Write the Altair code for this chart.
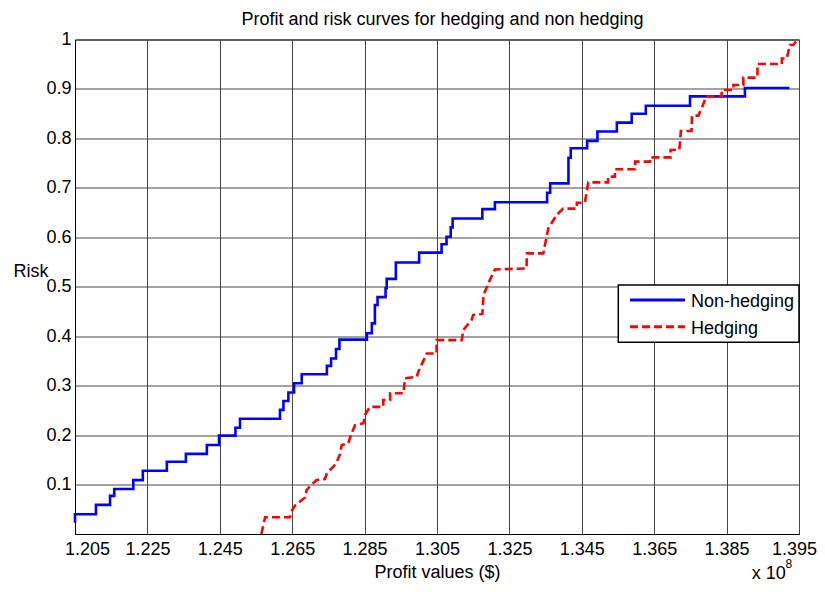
import altair as alt
import pandas as pd

# ---- data (profit in units of 1e8 $) ----
SERIES = ["Non-hedging", "Hedging"]
COLORS = ["#0000ff", "#ff0000"]

BLUE_PROFIT = [1.2050, 1.2050, 1.2105, 1.2142, 1.2153, 1.2203, 1.2228, 1.2291, 1.2341, 1.2396,
               1.2428, 1.2471, 1.2483, 1.2588, 1.2597, 1.2610, 1.2625, 1.2645, 1.2711, 1.2722,
               1.2735, 1.2744, 1.2816, 1.2829, 1.2837, 1.2844, 1.2865, 1.2868, 1.2892, 1.2953,
               1.3012, 1.3025, 1.3036, 1.3041, 1.3119, 1.3152, 1.3289, 1.3297, 1.3345, 1.3351,
               1.3394, 1.3421, 1.3472, 1.3511, 1.3548, 1.3664, 1.3808, 1.3925]
BLUE_RISK = [0.023, 0.040, 0.059, 0.077, 0.091, 0.109, 0.128, 0.146, 0.162, 0.180,
             0.199, 0.215, 0.233, 0.251, 0.269, 0.286, 0.305, 0.323, 0.340, 0.355,
             0.374, 0.393, 0.406, 0.426, 0.463, 0.479, 0.497, 0.516, 0.549, 0.569,
             0.586, 0.601, 0.620, 0.638, 0.657, 0.671, 0.690, 0.709, 0.761, 0.780,
             0.795, 0.814, 0.832, 0.850, 0.866, 0.885, 0.902, 0.902]

RED_PROFIT = [1.2539, 1.2549, 1.2614, 1.2620, 1.2627, 1.2654, 1.2658, 1.2667, 1.2684, 1.2706,
              1.2711, 1.2728, 1.2737, 1.2745, 1.2750, 1.2767, 1.2776, 1.2785, 1.2807, 1.2811,
              1.2824, 1.2859, 1.2859, 1.2877, 1.2877, 1.2912, 1.2916, 1.2947, 1.2951, 1.2973,
              1.2999, 1.2999, 1.3065, 1.3069, 1.3091, 1.3095, 1.3119, 1.3122, 1.3139, 1.3152,
              1.3235, 1.3236, 1.3279, 1.3292, 1.3314, 1.3331, 1.3367, 1.3367, 1.3388, 1.3397,
              1.3449, 1.3449, 1.3467, 1.3467, 1.3520, 1.3520, 1.3559, 1.3559, 1.3613, 1.3613,
              1.3636, 1.3640, 1.3668, 1.3669, 1.3686, 1.3698, 1.3706, 1.3747, 1.3747, 1.3778,
              1.3778, 1.3804, 1.3804, 1.3841, 1.3841, 1.3905, 1.3905, 1.3918, 1.3926, 1.3935,
              1.3946]
RED_RISK = [0.000, 0.034, 0.034, 0.0485, 0.057, 0.074, 0.089, 0.097, 0.109, 0.111,
            0.123, 0.136, 0.146, 0.160, 0.180, 0.183, 0.204, 0.220, 0.224, 0.241,
            0.257, 0.257, 0.271, 0.271, 0.2845, 0.2845, 0.315, 0.318, 0.328, 0.365,
            0.365, 0.392, 0.392, 0.4125, 0.433, 0.443, 0.445, 0.483, 0.514, 0.535,
            0.537, 0.5675, 0.5675, 0.618, 0.645, 0.658, 0.658, 0.670, 0.670, 0.711,
            0.711, 0.7226, 0.7226, 0.7375, 0.7375, 0.753, 0.753, 0.7616, 0.7616, 0.7766,
            0.7766, 0.815, 0.815, 0.846, 0.846, 0.8675, 0.8847, 0.8847, 0.8978, 0.8978,
            0.908, 0.908, 0.923, 0.923, 0.9505, 0.9505, 0.9615, 0.9615, 0.9888, 0.9888,
            1.000]

X_TICKS = [1.205, 1.224, 1.243, 1.262, 1.281, 1.300, 1.319, 1.338, 1.357, 1.376, 1.395]
X_TICK_LABELS = ["1.205", "1.225", "1.245", "1.265", "1.285", "1.305",
                 "1.325", "1.345", "1.365", "1.385", "1.395"]
Y_TICKS = [0.1, 0.2, 0.3, 0.4, 0.5, 0.6, 0.7, 0.8, 0.9, 1.0]

TITLE = "Profit and risk curves for hedging and non hedging"
X_TITLE = "Profit values ($)"
Y_TITLE = "Risk"
X_MULT = "x 10"
X_MULT_EXP = "8"

FONT = "Liberation Sans"
W, H = 724, 494.5

blue = pd.DataFrame({"profit": BLUE_PROFIT, "risk": BLUE_RISK,
                     "series": SERIES[0], "i": range(len(BLUE_PROFIT))})
red = pd.DataFrame({"profit": RED_PROFIT, "risk": RED_RISK,
                    "series": SERIES[1], "i": range(len(RED_PROFIT))})

label_js = "[" + ",".join("'%s'" % s for s in X_TICK_LABELS) + "]"
x_label_expr = label_js + "[round((datum.value - 1.205) / 0.019)]"

x_enc = alt.X("profit:Q",
              scale=alt.Scale(domain=[1.205, 1.395], nice=False, zero=False),
              axis=alt.Axis(values=X_TICKS, labelExpr=x_label_expr,
                            title=X_TITLE, titleFontWeight="normal",
                            titleFontSize=18, titleY=38, titleBaseline="middle",
                            labelFontSize=18, labelPadding=6, ticks=False,
                            labelOffset={"condition": [
                                {"test": "datum.value < 1.21", "value": 12},
                                {"test": "datum.value > 1.39", "value": -5}],
                                "value": 0},
                            labelFlush=False, labelOverlap=False))
y_enc = alt.Y("risk:Q",
              scale=alt.Scale(domain=[0, 1], nice=False),
              axis=alt.Axis(values=Y_TICKS, format="~g", title=Y_TITLE,
                            titleAngle=0, titleX=-44.5, titleY=232,
                            titleAlign="center", titleBaseline="middle",
                            titleFontWeight="normal", titleFontSize=18,
                            labelFontSize=18, labelPadding=4, ticks=False,
                            labelFlush=False, labelOverlap=False))

color_enc = alt.Color("series:N", scale=alt.Scale(domain=SERIES, range=COLORS), legend=None)
dash_enc = alt.StrokeDash("series:N",
                          scale=alt.Scale(domain=SERIES, range=[[1, 0], [8, 4]]),
                          legend=None)

blue_line = alt.Chart(blue).mark_line(interpolate="step-after", strokeWidth=2.6).encode(
    x=x_enc, y=y_enc, color=color_enc, strokeDash=dash_enc, order="i:Q")
red_line = alt.Chart(red).mark_line(strokeWidth=2.6).encode(
    x=x_enc, y=y_enc, color=color_enc, strokeDash=dash_enc, order="i:Q")

one = pd.DataFrame({"k": [0]})


def text_layer(txt, x, y, size=18, align="left"):
    return alt.Chart(one).mark_text(
        align=align, baseline="alphabetic", fontSize=size, font=FONT, color="black"
    ).encode(text=alt.value(txt), x=alt.value(x), y=alt.value(y))


# title and axis multiplier
title_l = text_layer(TITLE, 367.5, -14.5, 18, "center")
mult_l = text_layer(X_MULT, 676.7, 539.5)
exp_l = text_layer(X_MULT_EXP, 710.5, 528.5, 12)

# legend box (top-right, inside plot)
leg_box = alt.Chart(one).mark_rect(fill="white", stroke="black", strokeWidth=1.5).encode(
    x=alt.value(543.3), x2=alt.value(W), y=alt.value(245.5), y2=alt.value(302.8))
leg_blue = alt.Chart(one).mark_rule(color=COLORS[0], strokeWidth=3).encode(
    x=alt.value(555), x2=alt.value(610), y=alt.value(260.5))
leg_red = alt.Chart(one).mark_rule(color=COLORS[1], strokeWidth=3, strokeDash=[8, 4]).encode(
    x=alt.value(555), x2=alt.value(610), y=alt.value(287.2))
leg_t1 = text_layer(SERIES[0], 616, 267.5)
leg_t2 = text_layer(SERIES[1], 616, 294)

chart = alt.layer(blue_line, red_line, leg_box, leg_blue, leg_red, leg_t1, leg_t2,
                  title_l, mult_l, exp_l).properties(
    width=W, height=H,
    autosize=alt.AutoSizeParams(type="none"),
    padding={"left": 67, "top": 31.5, "right": 18, "bottom": 50},
).configure(font=FONT).configure_axis(
    labelFont=FONT, titleFont=FONT, labelColor="black", titleColor="black",
    domainColor="black", domainWidth=1, gridColor="#444444", gridWidth=1, grid=True,
).configure_view(stroke="black", strokeWidth=1)

chart.save("out.html", embed_options={"renderer": "svg", "actions": False})
